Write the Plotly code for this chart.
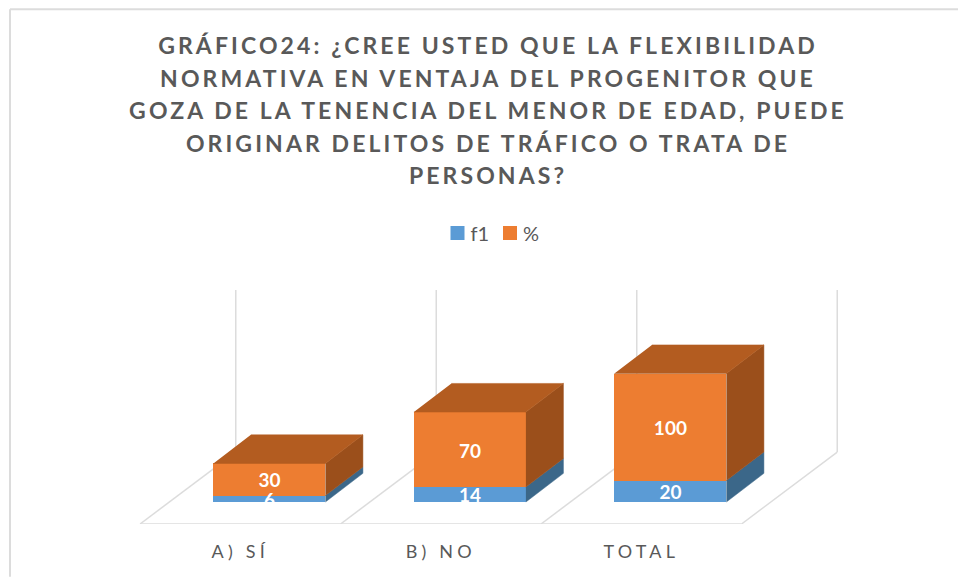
import plotly.graph_objects as go

# values
categories = ['A) SÍ', 'B) NO', 'TOTAL']
f1_values = [6, 14, 20]
pct_values = [30, 70, 100]

TITLE = ('GRÁFICO24: ¿CREE USTED QUE LA FLEXIBILIDAD<br>'
         'NORMATIVA EN VENTAJA DEL PROGENITOR QUE<br>'
         'GOZA DE LA TENENCIA DEL MENOR DE EDAD, PUEDE<br>'
         'ORIGINAR DELITOS DE TRÁFICO O TRATA DE<br>'
         'PERSONAS?')

BLUE = '#5B9BD5'
BLUE_SIDE = '#3B6789'
ORANGE = '#ED7D31'
ORANGE_SIDE = '#9B4F1B'
ORANGE_TOP = '#B35C20'
GRID = '#DCDCDC'
TEXT = '#595959'
FONT = 'Lato'

WIDTH = 958
HEIGHT = 577

# pixel scales of the axes
PX_PER_CAT = 200.5
PX_PER_VALUE = 1.072
ZERO_X = 240.3     # centre of the first category on the front floor edge
ZERO_Y = 502.3     # pixel row of value 0 (foot of the bars)
FLOOR_Y = 524.3
WALL_TOP = 290.0

# oblique depth offsets, in axis units
BAR_WIDTH = 112 / PX_PER_CAT
BAR_DX = 37.5 / PX_PER_CAT
BAR_DY = 28.7 / PX_PER_VALUE
FLOOR_DX = 95.7 / PX_PER_CAT
FLOOR_DY = 72.0 / PX_PER_VALUE
BAR_SHIFT = (FLOOR_DX - BAR_DX) / 2
LABEL_NUDGE = -3.2 / PX_PER_VALUE

floor_low = -(FLOOR_Y - ZERO_Y) / PX_PER_VALUE
wall_high = (ZERO_Y - WALL_TOP) / PX_PER_VALUE
x_range = [-ZERO_X / PX_PER_CAT, (WIDTH - ZERO_X) / PX_PER_CAT]
centers = [i + BAR_SHIFT for i in range(len(categories))]


def side_faces(bottoms, tops):
    xs, ys = [], []
    for c, lo, hi in zip(centers, bottoms, tops):
        right = c + BAR_WIDTH / 2
        xs += [right, right + BAR_DX, right + BAR_DX, right, None]
        ys += [lo, lo + BAR_DY, hi + BAR_DY, hi, None]
    return xs, ys


def top_faces(tops):
    xs, ys = [], []
    for c, hi in zip(centers, tops):
        left = c - BAR_WIDTH / 2
        right = c + BAR_WIDTH / 2
        xs += [left, right, right + BAR_DX, left + BAR_DX, None]
        ys += [hi, hi, hi + BAR_DY, hi + BAR_DY, None]
    return xs, ys


def face(xs, ys, color):
    return go.Scatter(x=xs, y=ys, mode='lines', fill='toself', fillcolor=color,
                      line=dict(color=color, width=0.5), hoverinfo='skip',
                      showlegend=False)


def paper_y(px):
    # paper coordinates are relative to the plot area, not the page
    return (FLOOR_Y - px) / (FLOOR_Y - WALL_TOP)


totals = [a + b for a, b in zip(f1_values, pct_values)]
zeros = [0 for _ in f1_values]

fig = go.Figure()
fig.add_trace(go.Bar(x=centers, y=f1_values, width=BAR_WIDTH, name='f1',
                     marker=dict(color=BLUE, line=dict(width=0))))
fig.add_trace(go.Bar(x=centers, y=pct_values, width=BAR_WIDTH, name='%',
                     marker=dict(color=ORANGE, line=dict(width=0))))

fig.add_trace(face(*side_faces(zeros, f1_values), BLUE_SIDE))
fig.add_trace(face(*side_faces(f1_values, totals), ORANGE_SIDE))
fig.add_trace(face(*top_faces(totals), ORANGE_TOP))

# labels go on their own trace so the small "6" stays on top of the orange
label_font = dict(family=FONT, size=19, color='white', weight='bold')
fig.add_trace(go.Scatter(x=centers, y=[v / 2 + LABEL_NUDGE for v in f1_values], mode='text',
                         text=[str(v) for v in f1_values], textposition='middle center',
                         textfont=label_font, hoverinfo='skip', showlegend=False))
fig.add_trace(go.Scatter(x=centers, y=[a + b / 2 + LABEL_NUDGE for a, b in zip(f1_values, pct_values)],
                         mode='text', text=[str(v) for v in pct_values],
                         textposition='middle center', textfont=label_font,
                         hoverinfo='skip', showlegend=False))

# floor and back wall of the 3D box
shapes = []
for i in range(len(categories) + 1):
    x0 = i - 0.5
    shapes.append(dict(type='line', layer='below', x0=x0, x1=x0 + FLOOR_DX,
                       y0=floor_low, y1=floor_low + FLOOR_DY,
                       line=dict(color=GRID, width=1.5)))
    shapes.append(dict(type='line', layer='below', x0=x0 + FLOOR_DX, x1=x0 + FLOOR_DX,
                       y0=floor_low + FLOOR_DY, y1=wall_high,
                       line=dict(color=GRID, width=1.5)))
shapes.append(dict(type='line', layer='below', x0=-0.5, x1=len(categories) - 0.5,
                   y0=floor_low, y1=floor_low, line=dict(color=GRID, width=1.5)))
# outer frame of the chart
shapes.append(dict(type='line', xref='paper', yref='paper', x0=10 / WIDTH, x1=1,
                   y0=paper_y(9), y1=paper_y(9), line=dict(color=GRID, width=2)))
shapes.append(dict(type='line', xref='paper', yref='paper', x0=10 / WIDTH, x1=10 / WIDTH,
                   y0=paper_y(HEIGHT), y1=paper_y(9), line=dict(color=GRID, width=2)))

fig.update_layout(
    width=WIDTH,
    height=HEIGHT,
    margin=dict(l=0, r=0, t=WALL_TOP, b=HEIGHT - FLOOR_Y, autoexpand=False),
    paper_bgcolor='white',
    plot_bgcolor='rgba(0,0,0,0)',
    barmode='stack',
    font=dict(family=FONT, color=TEXT),
    title=dict(text=TITLE, x=488 / WIDTH, xanchor='center', xref='container',
               y=1 - 54 / HEIGHT, yanchor='top', yref='container',
               font=dict(family=FONT, size=23, color=TEXT, weight='bold')),
    legend=dict(orientation='h', x=490 / WIDTH, xanchor='center', y=1 - 233 / HEIGHT,
                yanchor='middle', yref='container', traceorder='normal',
                font=dict(family=FONT, size=20, color=TEXT),
                entrywidth=7.5, entrywidthmode='pixels', bgcolor='rgba(0,0,0,0)'),
    shapes=shapes,
    xaxis=dict(range=x_range, tickmode='array', tickvals=list(range(len(categories))),
               ticktext=categories, showgrid=False, zeroline=False, showline=False,
               ticks='outside', ticklen=11, tickcolor='rgba(0,0,0,0)',
               tickfont=dict(family=FONT, size=18, color=TEXT)),
    yaxis=dict(range=[floor_low, wall_high], visible=False, showgrid=False, zeroline=False),
)

# things plotly has no option for: spaced lettering, title leading, legend swatch size and gap
POST = """
document.body.style.margin = '0';
document.querySelectorAll('.gtitle').forEach(function (el) { el.style.letterSpacing = '3.1px'; });
document.querySelectorAll('.gtitle tspan.line').forEach(function (el, i) {
    el.setAttribute('dy', (i * 32.5) + 'px');
});
document.querySelectorAll('.xtick text').forEach(function (el) { el.style.letterSpacing = '4.2px'; });
document.querySelectorAll('.legendpoints path').forEach(function (el) {
    el.setAttribute('d', 'M7,7H-7V-7H7Z');
});
document.querySelectorAll('.legendtext').forEach(function (el) {
    el.setAttribute('x', parseFloat(el.getAttribute('x')) - 7);
});
"""

fig.write_html("out.html", post_script=POST, config=dict(displayModeBar=False))
